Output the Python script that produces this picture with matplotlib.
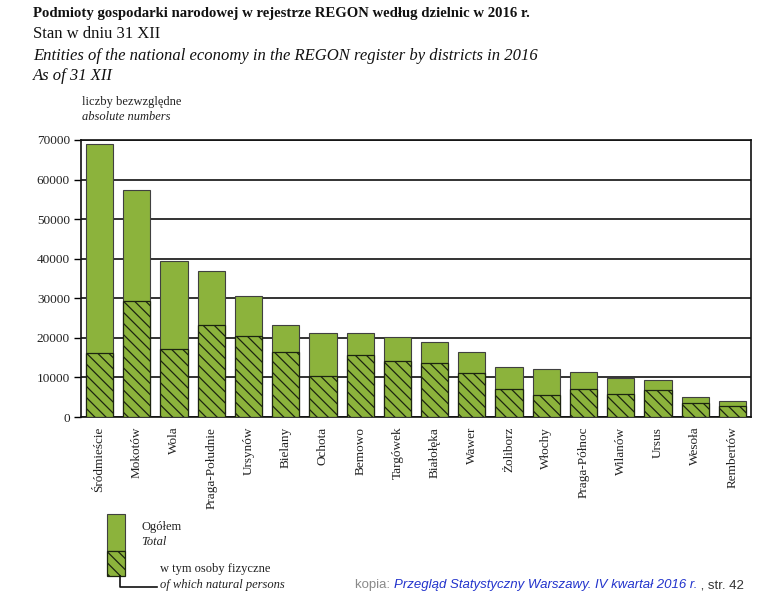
import matplotlib.pyplot as plt
from matplotlib.patches import Rectangle
from matplotlib.lines import Line2D

plt.rcParams['font.family'] = ['Liberation Serif', 'DejaVu Serif']
plt.rcParams['hatch.linewidth'] = 0.9

districts = ['Śródmieście', 'Mokotów', 'Wola', 'Praga-Południe', 'Ursynów', 'Bielany',
             'Ochota', 'Bemowo', 'Targówek', 'Białołęka', 'Wawer', 'Żoliborz', 'Włochy',
             'Praga-Północ', 'Wilanów', 'Ursus', 'Wesoła', 'Rembertów']
total = [69000, 57400, 39400, 36900, 30600, 23300, 21200, 21200, 20200, 18900,
         16500, 12600, 12100, 11400, 9900, 9300, 5000, 4100]
natural = [16200, 29300, 17200, 23200, 20500, 16400, 10400, 15700, 14200, 13700,
           11000, 7200, 5600, 7000, 5900, 6700, 3500, 2800]
yticks = [0, 10000, 20000, 30000, 40000, 50000, 60000, 70000]

green = '#8cb33c'
W, H = 764, 610

fig = plt.figure(figsize=(W / 100, H / 100), dpi=100)
ax = fig.add_axes([81 / W, 1 - 417 / H, (751 - 81) / W, (417 - 140) / H])

x = range(len(districts))
ax.bar(x, total, width=0.73, color=green, edgecolor='#404040', linewidth=0.8, zorder=3)
ax.bar(x, natural, width=0.73, color=green, edgecolor='#1c2410', linewidth=0.9,
       hatch='\\\\\\', zorder=4)

ax.set_xlim(-0.5, len(districts) - 0.5)
ax.set_ylim(0, 70000)
ax.set_yticks(yticks)
ax.set_yticklabels([str(v) for v in yticks], fontsize=9.5, color='#222222')
ax.yaxis.grid(True, color='#111111', linewidth=1.2, zorder=0)
ax.set_axisbelow(True)
ax.tick_params(axis='y', length=5, width=1.0, pad=3)
ax.set_xticks(list(x))
ax.set_xticklabels(districts, rotation=90, fontsize=9.5, color='#222222', va='top')
ax.tick_params(axis='x', length=0, pad=7)
for s in ax.spines.values():
    s.set_color('#111111')
    s.set_linewidth(1.2)

def t(px, py, s, **kw):
    fig.text(px / W, 1 - py / H, s, va='center', ha='left', **kw)

# headings
t(33, 13, 'Podmioty gospodarki narodowej w rejestrze REGON według dzielnic w 2016 r.',
  fontsize=10.6, fontweight='bold', color='#111111')
t(33, 34, 'Stan w dniu 31 XII', fontsize=12, color='#111111')
t(33, 56, 'Entities of the national economy in the REGON register by districts in 2016',
  fontsize=12, style='italic', color='#111111')
t(33, 76, 'As of 31 XII', fontsize=12, style='italic', color='#111111')
t(82, 102, 'liczby bezwzględne', fontsize=9, color='#222222')
t(82, 117, 'absolute numbers', fontsize=9, style='italic', color='#222222')

# legend
fig.patches.append(Rectangle((107 / W, 1 - 551 / H), 18 / W, 37 / H, transform=fig.transFigure,
                             facecolor=green, edgecolor='#404040', linewidth=0.8))
fig.patches.append(Rectangle((107 / W, 1 - 576 / H), 18 / W, 25 / H, transform=fig.transFigure,
                             facecolor=green, edgecolor='#1c2410', linewidth=0.9, hatch='\\\\\\'))
fig.lines.append(Line2D([120 / W, 120 / W, 157 / W], [1 - 576 / H, 1 - 587 / H, 1 - 587 / H],
                        transform=fig.transFigure, color='#111111', linewidth=1.2))
t(141, 527, 'Ogółem', fontsize=9, color='#222222')
t(141, 542, 'Total', fontsize=9, style='italic', color='#222222')
t(160, 569, 'w tym osoby fizyczne', fontsize=9, color='#222222')
t(160, 585, 'of which natural persons', fontsize=9, style='italic', color='#222222')

# source line
src = fig.text(355 / W, 1 - 585 / H, 'kopia: ', fontsize=9.5, color='#8a8a8a',
               family='Liberation Sans', va='center')
fig.canvas.draw()
bb = src.get_window_extent()
src2 = fig.text(bb.x1 / W, 1 - 585 / H, 'Przegląd Statystyczny Warszawy. IV kwartał 2016 r.',
                fontsize=9.5, color='#2233cc', style='italic', family='Liberation Sans',
                va='center')
fig.canvas.draw()
bb = src2.get_window_extent()
fig.text(bb.x1 / W, 1 - 585 / H, ' , str. 42', fontsize=9.5, color='#333333',
         family='Liberation Sans', va='center')

fig.savefig('out.png', dpi=100)
